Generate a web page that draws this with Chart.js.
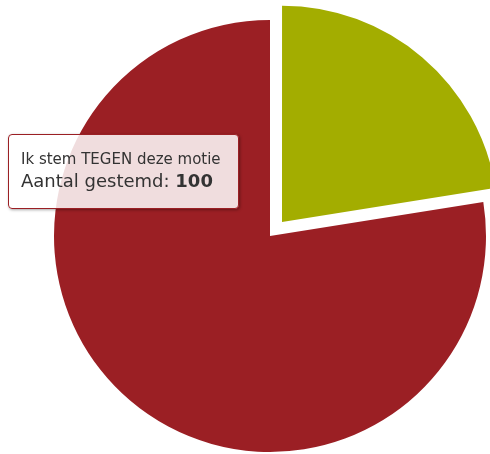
<!DOCTYPE html>
<html>
<head>
<meta charset="utf-8">
<script src="https://cdn.jsdelivr.net/npm/chart.js@4/dist/chart.umd.min.js"></script>
<style>
  html, body { margin: 0; padding: 0; background: #fff; }
  #wrap { position: relative; width: 490px; height: 454px; }
  #tip {
    position: absolute; box-sizing: border-box;
    background: rgba(255,255,255,0.85);
    border: 1px solid #9b1f24; border-radius: 4px;
    box-shadow: 1px 1px 3px rgba(0,0,0,0.35);
    font-family: "DejaVu Sans", sans-serif; color: #333;
    padding: 15px 12px 0 12px; white-space: nowrap; display: none;
  }
  #tip .t { font-size: 15px; line-height: 18px; }
  #tip .b { font-size: 18px; line-height: 25px; }
</style>
</head>
<body>
<div id="wrap">
  <canvas id="c" width="490" height="454"></canvas>
  <div id="tip"></div>
</div>
<script>
// ---- data ----
const labels = ['Ik stem VOOR deze motie', 'Ik stem TEGEN deze motie'];
const votes = [29, 100];
const colors = ['#a3ad00', '#9b1f24'];
const valueLabel = 'Aantal gestemd';
const shownIndex = 1;

const tipEl = document.getElementById('tip');

// tooltip drawn as html, filled from the chart's own tooltip data
function externalTip(context) {
  const tt = context.tooltip;
  if (!tt || tt.opacity === 0 || !tt.dataPoints || !tt.dataPoints.length) return;
  const dp = tt.dataPoints[0];
  tipEl.innerHTML =
    '<div class="t">' + labels[dp.dataIndex] + '</div>' +
    '<div class="b">' + valueLabel + ': <b>' + votes[dp.dataIndex] + '</b></div>';
  tipEl.style.left = '8px';
  tipEl.style.top = '134px';
  tipEl.style.width = '231px';
  tipEl.style.height = '75px';
  tipEl.style.display = 'block';
}

const chart = new Chart(document.getElementById('c'), {
  type: 'pie',
  data: {
    labels: labels,
    datasets: [{
      data: votes,
      backgroundColor: colors,
      hoverBackgroundColor: colors,
      borderWidth: 0,
      offset: [74, 0], // arc shifts by offset/4 px
      hoverOffset: 0,
    }],
  },
  options: {
    responsive: false,
    animation: false,
    radius: 216,
    layout: { padding: { left: 50, right: 0, top: 18, bottom: 0 } },
    events: [],
    plugins: {
      legend: { display: false },
      tooltip: { enabled: false, external: externalTip },
    },
  },
});

chart.tooltip.setActiveElements([{ datasetIndex: 0, index: shownIndex }], { x: 120, y: 170 });
chart.update();
</script>
</body>
</html>
